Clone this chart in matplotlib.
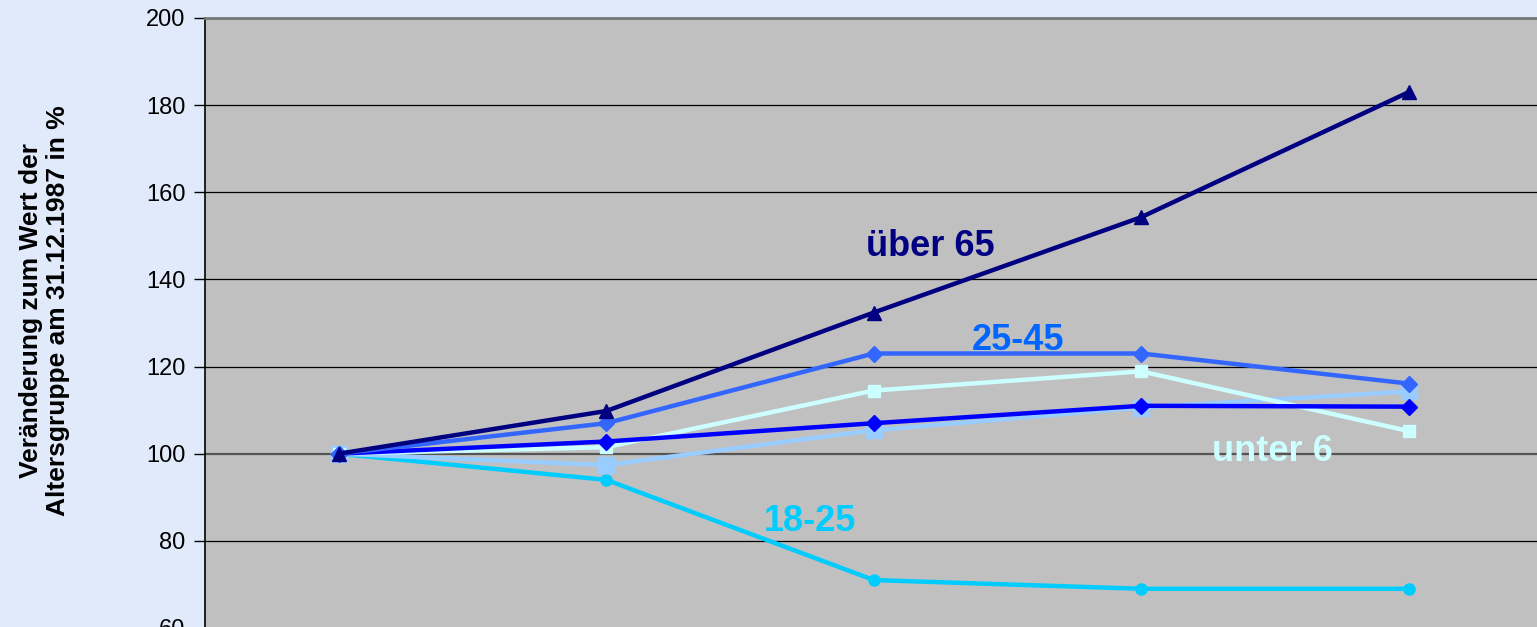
import matplotlib.pyplot as plt

# === data =====================================================
years = [0, 1, 2, 3, 4]   # category positions (no x labels visible)

ueber65 = [100, 109.8, 132.4, 154.3, 183.0]
a25_45 = [100, 107.0, 123.0, 123.0, 116.1]
unter6 = [100, 101.5, 114.5, 118.9, 105.2]
blue_mid = [100, 102.8, 107.0, 111.0, 110.8]
light_blue = [100, 97.4, 105.4, 110.6, 114.3]
a18_25 = [100, 94.0, 71.0, 69.0, 69.0]

yticks = [60, 80, 100, 120, 140, 160, 180, 200]
# ===============================================================

plt.rcParams['font.family'] = ['Liberation Sans', 'DejaVu Sans']

fig = plt.figure(figsize=(15.37, 6.27), dpi=100)
fig.patch.set_facecolor('#E0EAFA')
ax = fig.add_axes([205 / 1537, -1 / 627, 1337.6 / 1537, 610 / 627])
ax.set_facecolor('#C0C0C0')

ax.set_xlim(-0.5, 4.5)
ax.set_ylim(60, 200)
ax.set_yticks(yticks)
ax.set_xticks([])
ax.tick_params(axis='y', labelsize=17, length=8, width=1, direction='out', pad=6)

for y in yticks[1:]:
    if y == 100:
        ax.axhline(y, color='#555555', lw=1.6, zorder=1)
    else:
        ax.axhline(y, color='black', lw=0.9, zorder=1)

for s in ['right', 'bottom']:
    ax.spines[s].set_visible(False)
ax.spines['top'].set_color('#777777')
ax.spines['top'].set_linewidth(2)
ax.spines['left'].set_color('black')
ax.spines['left'].set_linewidth(1.2)

lw = 3.2
ax.plot(years, a18_25, color='#00CCFF', lw=lw, marker='o', ms=8, zorder=3)
ax.plot(years, light_blue, color='#99CCFF', lw=lw, marker='s', ms=11, zorder=3)
ax.plot(years, unter6, color='#CCFFFF', lw=lw, marker='s', ms=8, zorder=4)
ax.plot(years, blue_mid, color='#0000FF', lw=lw, marker='D', ms=8, zorder=5)
ax.plot(years, a25_45, color='#3366FF', lw=lw, marker='D', ms=8, zorder=5)
ax.plot(years, ueber65, color='#000080', lw=lw, marker='^', ms=10, zorder=6)

ax.text(2.21, 147.5, 'über 65', color='#000080', fontsize=26, fontweight='bold', ha='center', va='center')
ax.text(2.54, 126.0, '25-45', color='#0066FF', fontsize=26, fontweight='bold', ha='center', va='center')
ax.text(3.49, 100.6, 'unter 6', color='#CCFFFF', fontsize=26, fontweight='bold', ha='center', va='center')
ax.text(1.76, 84.4, '18-25', color='#00CCFF', fontsize=26, fontweight='bold', ha='center', va='center')

fig.text(0.029, 0.505, 'Veränderung zum Wert der\nAltersgruppe am 31.12.1987 in %',
         rotation=90, ha='center', va='center', fontsize=19, fontweight='bold',
         linespacing=1.2)

fig.savefig('out.png', dpi=100, facecolor=fig.get_facecolor())
